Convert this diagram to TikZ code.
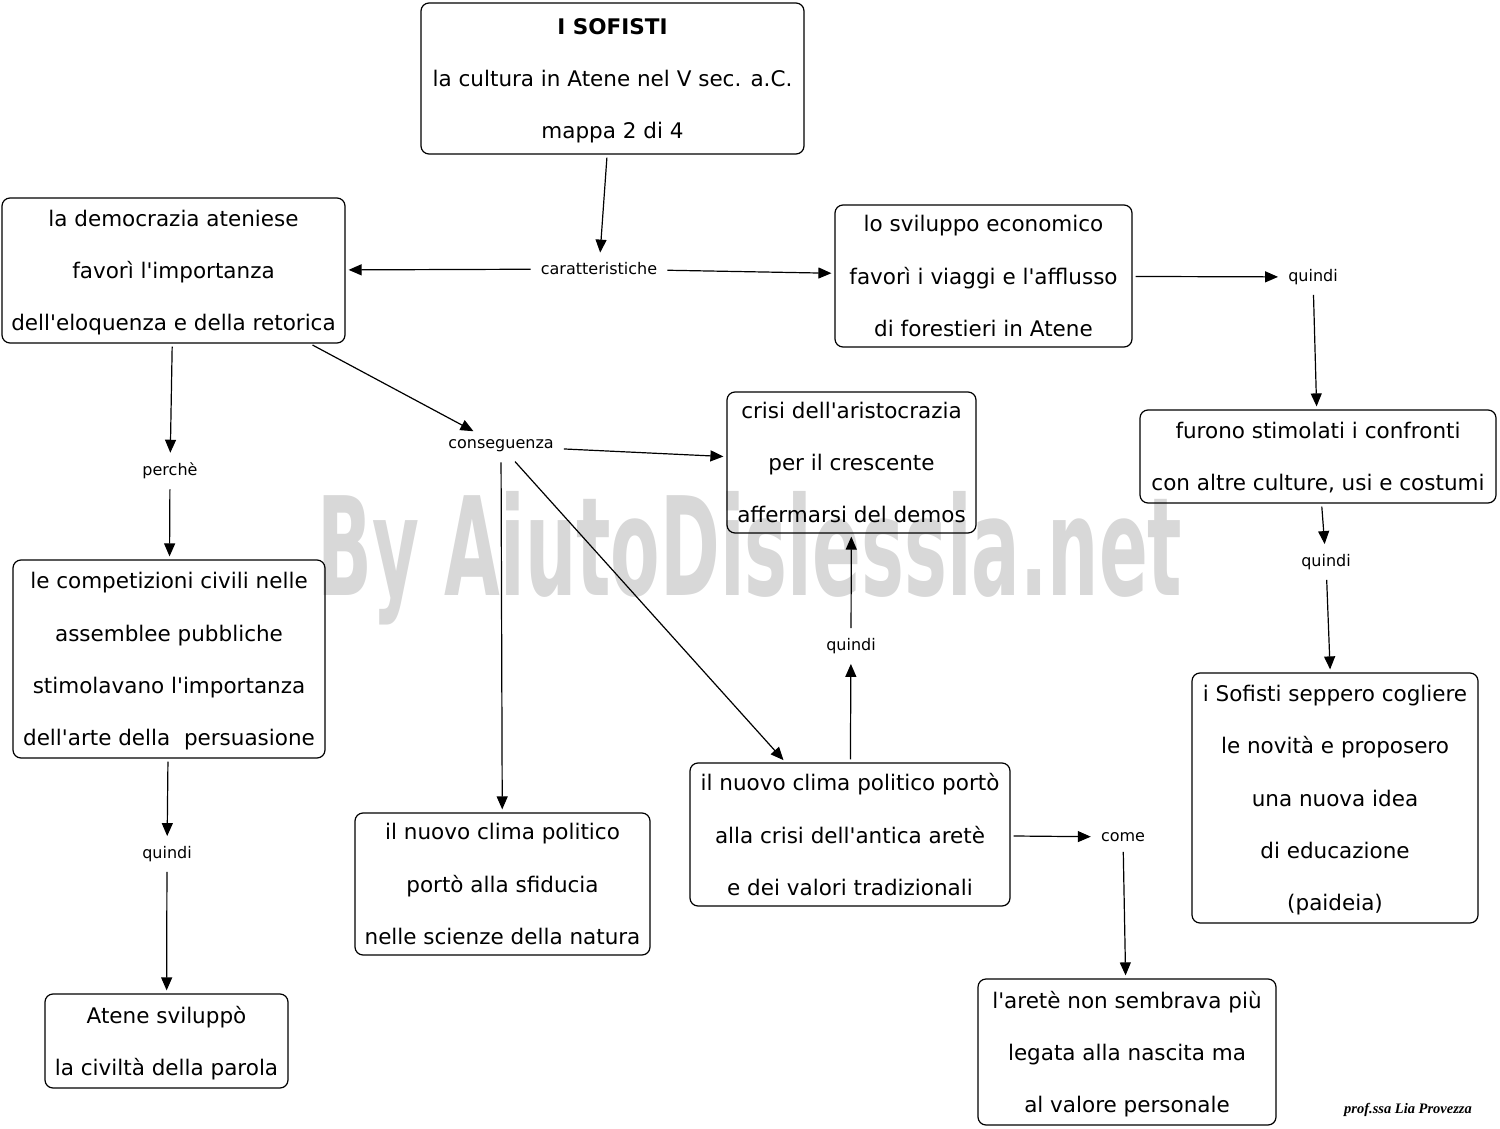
\documentclass[tikz,border=0pt]{standalone}
\usepackage{fontspec}
\usepackage{tikz}
\newfontfamily\mapfont{DejaVu Sans}
\newfontfamily\signfont{Liberation Serif}
\definecolor{markgray}{HTML}{D8D8D8}
\tikzset{concept node/.style={draw,rounded corners=8pt,line width=1.2pt,inner sep=0pt,align=center,
    text depth=0pt,font=\mapfont\fontsize{21.5}{52.3}\selectfont},
  link node/.style={inner sep=7pt,font=\mapfont\fontsize{16}{18}\selectfont},
  link/.style={draw,line width=1.2pt,-{Triangle[length=13pt,width=11pt]},shorten >=3pt,shorten <=3pt},
}
\usetikzlibrary{arrows.meta}

\begin{document}
\begin{tikzpicture}[x=1pt,y=-1pt]
\useasboundingbox (0,0) rectangle (1500,1129);

%% watermark
\node[anchor=base,text=markgray,xscale=0.526,font=\mapfont\bfseries\fontsize{137}{140}\selectfont] (wm) at (750,595) {By AiutoDislessia.net};

%% concepts
\node[concept node,minimum width=383pt,minimum height=151pt] (1) at (612.5,78.5) {{\bfseries I SOFISTI}\\la cultura in Atene nel V sec. a.C.\\mappa 2 di 4};
\node[concept node,minimum width=343pt,minimum height=145pt] (2) at (173.5,270.5) {la democrazia ateniese\\favorì l'importanza\\dell'eloquenza e della retorica};
\node[concept node,minimum width=297pt,minimum height=142pt] (3) at (983.5,276) {lo sviluppo economico\\favorì i viaggi e l'afflusso\\di forestieri in Atene};
\node[concept node,minimum width=249pt,minimum height=141pt] (4) at (851.5,462.5) {crisi dell'aristocrazia\\per il crescente\\affermarsi del demos};
\node[concept node,minimum width=356pt,minimum height=93pt] (5) at (1318,456.5) {furono stimolati i confronti\\con altre culture, usi e costumi};
\node[concept node,minimum width=312pt,minimum height=198pt] (6) at (169,659) {le competizioni civili nelle\\assemblee pubbliche\\stimolavano l'importanza\\dell'arte della~ persuasione};
\node[concept node,minimum width=286pt,minimum height=250pt] (7) at (1335,798) {i Sofisti seppero cogliere\\le novità e proposero\\una nuova idea\\di educazione\\(paideia)};
\node[concept node,minimum width=320pt,minimum height=143pt] (8) at (850,834.5) {il nuovo clima politico portò\\alla crisi dell'antica aretè\\e dei valori tradizionali};
\node[concept node,minimum width=295pt,minimum height=142pt] (9) at (502.5,884) {il nuovo clima politico\\portò alla sfiducia\\nelle scienze della natura};
\node[concept node,minimum width=243pt,minimum height=94pt] (10) at (166.5,1041) {Atene sviluppò\\la civiltà della parola};
\node[concept node,minimum width=298pt,minimum height=146pt] (11) at (1127,1052) {l'aretè non sembrava più\\legata alla nascita ma\\al valore personale};

%% linking words
\node[link node] (12) at (599,269) {caratteristiche};
\node[link node] (13) at (1313,277) {quindi};
\node[link node] (14) at (1326,562) {quindi};
\node[link node] (15) at (170,471) {perchè};
\node[link node] (16) at (501,446) {conseguenza};
\node[link node] (17) at (851,646) {quindi};
\node[link node] (18) at (1123,837) {come};
\node[link node] (19) at (167,854) {quindi};

\path[link]
(1) edge (12)
(12) edge (2)
(12) edge (3)
(3) edge (13)
(13) edge (5)
(5) edge (14)
(14) edge (7)
(2) edge (15)
(15) edge (6)
(2) edge (16)
(16) edge (4)
(16) edge (9)
(16) edge (8)
(8) edge (17)
(17) edge (4)
(8) edge (18)
(18) edge (11)
(6) edge (19)
(19) edge (10)
;

%% signature
\node[font=\signfont\bfseries\itshape\fontsize{14.5}{16}\selectfont] (sign) at (1408,1110) {prof.ssa Lia Provezza};
\end{tikzpicture}
\end{document}
